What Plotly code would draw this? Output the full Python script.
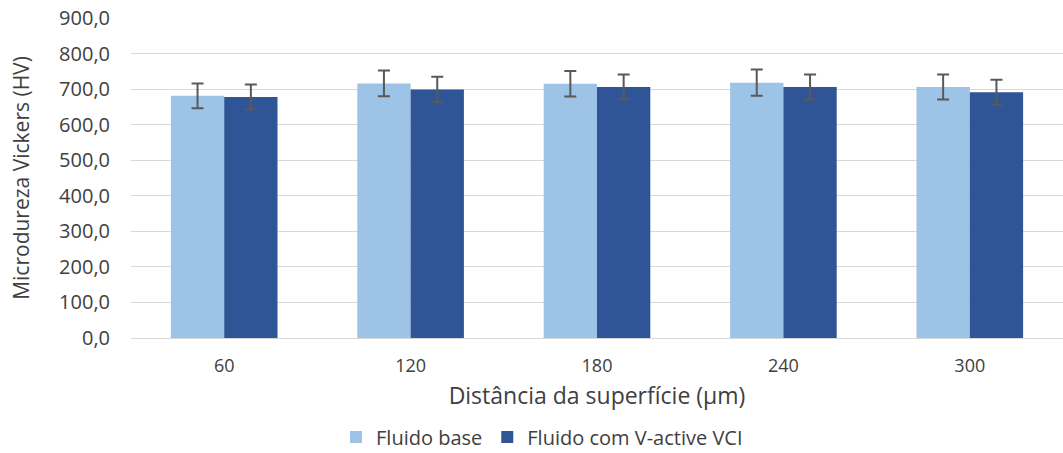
import plotly.graph_objects as go

categories = ["60", "120", "180", "240", "300"]
fluido_base = [681, 716, 715, 718, 706]
fluido_base_err = [35, 36, 36, 37, 35]
fluido_vci = [678, 699, 706, 706, 691]
fluido_vci_err = [35, 36, 35, 35, 35]
y_ticks = [0, 100, 200, 300, 400, 500, 600, 700, 800, 900]
y_tick_text = [f"{v:.1f}".replace(".", ",") for v in y_ticks]

font_family = "Open Sans"
text_color = "#404040"
err_style = dict(type="data", visible=True, color="#595959", thickness=2, width=6)

fig = go.Figure()
fig.add_trace(go.Bar(
    name="Fluido base", x=categories, y=fluido_base,
    marker=dict(color="#9dc3e6", line=dict(width=0)),
    error_y=dict(array=fluido_base_err, **err_style),
))
fig.add_trace(go.Bar(
    name="Fluido com V-active VCI", x=categories, y=fluido_vci,
    marker=dict(color="#2f5597", line=dict(width=0)),
    error_y=dict(array=fluido_vci_err, **err_style),
))

fig.update_layout(
    width=1063, height=453,
    margin=dict(l=131, r=0, t=18, b=115, autoexpand=False),
    paper_bgcolor="white", plot_bgcolor="white",
    barmode="group", bargap=0.428, bargroupgap=0,
    font=dict(family=font_family, size=19, color=text_color),
    showlegend=True,
    legend=dict(orientation="h", x=0.441, xanchor="center", y=-0.309, yanchor="middle",
                font=dict(size=20, color=text_color), traceorder="normal"),
    xaxis=dict(
        type="category", showgrid=False, showline=False, ticks="", automargin=False,
        tickfont=dict(size=18, color=text_color), ticklabelstandoff=15,
        title=dict(text="Distância da superfície (µm)", font=dict(size=23, color=text_color), standoff=11),
    ),
    yaxis=dict(
        range=[0, 900], tickvals=y_ticks, ticktext=y_tick_text, automargin=False,
        ticklabeloverflow="allow",
        showgrid=True, gridcolor="#d9d9d9", gridwidth=1.3,
        zeroline=True, zerolinecolor="#d9d9d9", zerolinewidth=1.3,
        showline=False, ticks="", ticklabelstandoff=20,
        tickfont=dict(size=20, color=text_color),
        title=dict(text="Microdureza Vickers (HV)", font=dict(size=21, color=text_color), standoff=23),
    ),
)

fig.write_html("out.html", config={"displayModeBar": False},
               post_script="document.body.style.margin='0px';")
